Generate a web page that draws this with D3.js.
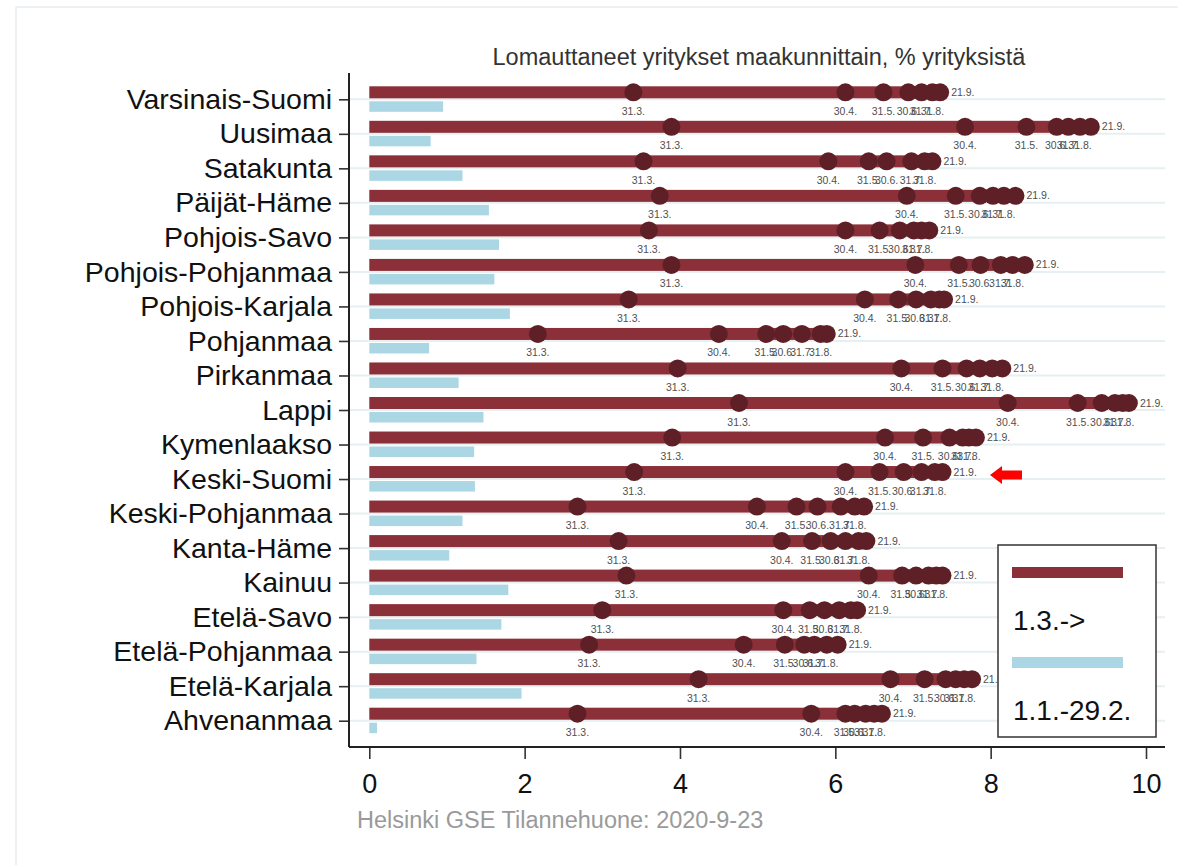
<!DOCTYPE html>
<html>
<head>
<meta charset="utf-8">
<script src="https://cdn.jsdelivr.net/npm/d3@7"></script>
<style>
body { margin: 0; background: #fff; }
text { font-family: "Liberation Sans", Arial, sans-serif; }
</style>
</head>
<body>
<div id="chart"></div>
<script>
var width = 1178,
height = 865;

// regions, top to bottom
var regions = ["Varsinais-Suomi","Uusimaa","Satakunta","Päijät-Häme","Pohjois-Savo",
    "Pohjois-Pohjanmaa","Pohjois-Karjala","Pohjanmaa","Pirkanmaa","Lappi","Kymenlaakso",
    "Keski-Suomi","Keski-Pohjanmaa","Kanta-Häme","Kainuu","Etelä-Savo","Etelä-Pohjanmaa",
    "Etelä-Karjala","Ahvenanmaa"];

// 1.1.-29.2. (light blue bars)
var janFeb = [0.95,0.79,1.20,1.54,1.67,1.61,1.81,0.77,1.15,1.47,1.35,1.36,1.20,1.03,1.79,1.70,1.38,1.96,0.10];

// 1.3.-> cumulative shares at each date
var mar31 = [3.40,3.89,3.53,3.74,3.60,3.89,3.34,2.17,3.97,4.76,3.90,3.41,2.68,3.21,3.31,3.00,2.83,4.24,2.68];
var apr30 = [6.13,7.67,5.91,6.92,6.13,7.03,6.38,4.50,6.85,8.22,6.64,6.13,4.99,5.31,6.43,5.33,4.82,6.71,5.69];
var may31 = [6.62,8.46,6.43,7.55,6.57,7.59,6.81,5.11,7.38,9.12,7.13,6.57,5.50,5.70,6.86,5.67,5.35,7.15,6.13];
var jun30 = [6.94,8.85,6.66,7.86,6.83,7.87,7.04,5.33,7.69,9.43,7.47,6.88,5.77,5.94,7.04,5.86,5.60,7.42,6.25];
var jul31 = [7.11,9.00,6.98,8.03,7.01,8.13,7.23,5.57,7.86,9.60,7.64,7.11,6.07,6.13,7.20,6.05,5.73,7.55,6.39];
var aug31 = [7.25,9.15,7.15,8.17,7.11,8.28,7.34,5.81,8.02,9.70,7.72,7.28,6.25,6.30,7.30,6.20,5.89,7.66,6.50];
var sep21 = [7.35,9.29,7.25,8.32,7.21,8.44,7.40,5.89,8.15,9.78,7.81,7.38,6.37,6.40,7.38,6.28,6.03,7.76,6.60];

var dateLabels = ["31.3.","30.4.","31.5.","30.6.","31.7.","31.8.","21.9."];
var xTicks = [0,2,4,6,8,10];
var legendLabels = ["1.3.->","1.1.-29.2."];

var title = "Lomauttaneet yritykset maakunnittain, % yrityksistä";
var note = "Helsinki GSE Tilannehuone: 2020-9-23";

var redColor = "#8b2f38",
dotColor = "#5e2026",
blueColor = "#abd7e4",
gridColor = "#e6eff2";

var svg = d3.select('#chart').append('svg')
    .attr('width', width)
    .attr('height', height);

// faint outer frame
svg.append("rect")
    .attr("x", 16).attr("y", 7)
    .attr("width", width).attr("height", height)
    .attr("fill", "none")
    .attr("stroke", "#e8edf0")
    .attr("stroke-width", 1.5);

// scales
let scaleX = d3.scaleLinear().domain([0,10]).range([369.3,1146]);
let scaleY = d3.scalePoint().domain(regions).range([99.3,720.7]);

var plotLeft = 349, plotRight = 1165, plotTop = 73, plotBottom = 747;

// grid lines
svg.append("g").selectAll(".grid").data(regions)
    .enter().append("line")
    .attr("class","grid")
    .attr("x1", plotLeft).attr("x2", plotRight)
    .attr("y1", d => scaleY(d)).attr("y2", d => scaleY(d))
    .attr("stroke", gridColor)
    .attr("stroke-width", 2);

var g = svg.append("g");

// light blue bars (1.1.-29.2.)
g.selectAll(".preBar").data(regions)
    .enter().append("rect")
    .attr("class","preBar")
    .attr("x", scaleX(0))
    .attr("y", d => scaleY(d) + 2)
    .attr("width", (d,i) => scaleX(janFeb[i]) - scaleX(0))
    .attr("height", 10.5)
    .attr("fill", blueColor);

// red bars (1.3.->)
g.selectAll(".postBar").data(regions)
    .enter().append("rect")
    .attr("class","postBar")
    .attr("x", scaleX(0))
    .attr("y", d => scaleY(d) - 13)
    .attr("width", (d,i) => scaleX(sep21[i]) - scaleX(0))
    .attr("height", 12)
    .attr("fill", redColor);

// dots and their labels per date
var series = [mar31, apr30, may31, jun30, jul31, aug31, sep21];
series.forEach((vals, k) => {
    let pts = regions.map((r,i) => {return {region: r, v: vals[i]};});
    g.selectAll(".dot"+k).data(pts)
        .enter().append("circle")
        .attr("class","dot"+k)
        .attr("cx", d => scaleX(d.v))
        .attr("cy", d => scaleY(d.region) - 7)
        .attr("r", 9)
        .attr("fill", dotColor);
});
series.forEach((vals, k) => {
    let last = k == series.length-1;
    let pts = regions.map((r,i) => {return {region: r, v: vals[i]};});
    g.selectAll(".dl"+k).data(pts)
        .enter().append("text")
        .attr("class","dl"+k)
        .attr("x", d => last ? scaleX(d.v) + 11 : scaleX(d.v))
        .attr("y", d => last ? scaleY(d.region) - 3.5 : scaleY(d.region) + 15.5)
        .attr("text-anchor", last ? "start" : "middle")
        .attr("font-size", "10.5px")
        .attr("fill", "#505050")
        .text(dateLabels[k]);
});

// axes
var axisY = d3.axisLeft(scaleY).tickSize(10).tickPadding(7);
var yAxis = svg.append("g").attr("transform","translate("+plotLeft+",0)").call(axisY);
yAxis.select(".domain").remove();
yAxis.selectAll(".tick line").attr("stroke","#333").attr("stroke-width",1.6);
yAxis.selectAll(".tick text")
    .attr("font-size","28.5px")
    .attr("font-family",'"Liberation Sans", Arial, sans-serif')
    .attr("fill","#111");

var axisX = d3.axisBottom(scaleX).tickValues(xTicks).tickSize(12).tickPadding(14.5);
var xAxis = svg.append("g").attr("transform","translate(0,"+plotBottom+")").call(axisX);
xAxis.select(".domain").remove();
xAxis.selectAll(".tick line").attr("stroke","#333").attr("stroke-width",1.6);
xAxis.selectAll(".tick text")
    .attr("font-size","27px")
    .attr("font-family",'"Liberation Sans", Arial, sans-serif')
    .attr("fill","#111");

svg.append("line")
    .attr("x1", plotLeft).attr("x2", plotLeft)
    .attr("y1", plotTop).attr("y2", plotBottom)
    .attr("stroke","#222").attr("stroke-width",2);
svg.append("line")
    .attr("x1", plotLeft).attr("x2", plotRight)
    .attr("y1", plotBottom).attr("y2", plotBottom)
    .attr("stroke","#222").attr("stroke-width",2);

// title & note
svg.append("text")
    .attr("x", 759)
    .attr("y", 65)
    .attr("text-anchor","middle")
    .attr("font-size","23.5px")
    .attr("fill","#333")
    .text(title);
svg.append("text")
    .attr("x", 357)
    .attr("y", 828)
    .attr("font-size","23.5px")
    .attr("fill","#9a9a9a")
    .text(note);

// red arrow pointing at Keski-Suomi
var ay = scaleY("Keski-Suomi") - 4;
svg.append("path")
    .attr("d", "M990," + ay + " L1002," + (ay-9) + " L1002," + (ay-4.5) + " L1022," + (ay-4.5) +
        " L1022," + (ay+4.5) + " L1002," + (ay+4.5) + " L1002," + (ay+9) + " Z")
    .attr("fill","#f00");

// legend
var legend = svg.append("g").attr("class","legend");
legend.append("rect")
    .attr("x", 998).attr("y", 545)
    .attr("width", 158).attr("height", 192)
    .attr("fill","#fff")
    .attr("stroke","#333")
    .attr("stroke-width",1.5);
legend.append("rect")
    .attr("x", 1012).attr("y", 567)
    .attr("width", 111).attr("height", 11)
    .attr("fill", redColor);
legend.append("rect")
    .attr("x", 1012).attr("y", 657)
    .attr("width", 111).attr("height", 11)
    .attr("fill", blueColor);
legend.selectAll(".ltext").data(legendLabels)
    .enter().append("text")
    .attr("class","ltext")
    .attr("x", 1013)
    .attr("y", (d,i) => i == 0 ? 630 : 720)
    .attr("font-size","28px")
    .attr("fill","#111")
    .text(d => d);
</script>
</body>
</html>
